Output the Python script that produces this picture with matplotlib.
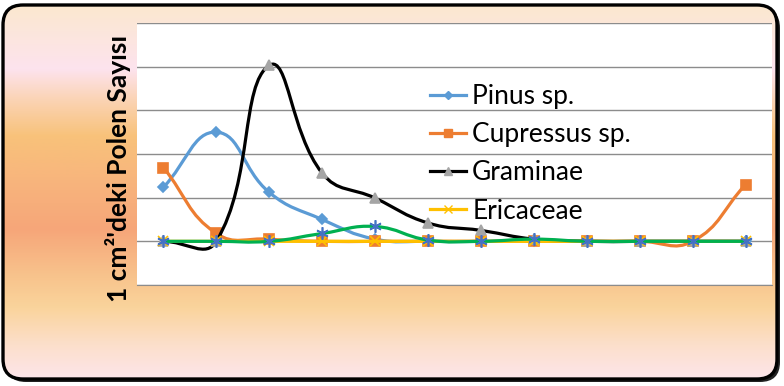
import numpy as np
import matplotlib
matplotlib.use("Agg")
import matplotlib.pyplot as plt
from matplotlib.path import Path
from matplotlib.patches import PathPatch, FancyBboxPatch
from matplotlib.lines import Line2D
from matplotlib.colors import LinearSegmentedColormap

# Veri
kategoriler = list(range(12))
pinus = [12.4, 25.0, 11.2, 5.0, 0.5, 0, 0, 0, 0, 0, 0, 0]
cupressus = [16.9, 1.8, 0.5, 0, 0, 0, 0, 0, 0, 0, 0, 13.0]
graminae = [0, 0, 40.3, 15.6, 9.9, 4.2, 2.5, 0.5, 0, 0, 0, 0]
ericaceae = [0, 0, 0, 0, 0, 0, 0, 0, 0, 0, 0, 0]
diger = [0, 0, 0, 1.8, 3.4, 0.3, 0, 0.5, 0, 0, 0, 0]

plt.rcParams['font.family'] = ['Lato', 'DejaVu Sans']

fig = plt.figure(figsize=(7.84, 3.86), dpi=100)

# arka plan (yuvarlak köşeli, gradyan)
bg = fig.add_axes([0, 0, 1, 1], zorder=-10)
bg.set_xlim(0, 784)
bg.set_ylim(386, 0)
bg.axis('off')
stops = [(0.0, '#FBE8CF'), (0.17, '#FDE3EE'), (0.25, '#FBD4B6'), (0.35, '#F8C27A'),
         (0.46, '#F8B67D'), (0.6, '#F6A679'), (0.73, '#F8C48D'), (0.81, '#FAD49C'),
         (0.91, '#FCDFCB'), (1.0, '#FDE5EA')]
cmap = LinearSegmentedColormap.from_list('arka', stops)
grad = np.linspace(0, 1, 256).reshape(-1, 1)
shadow = FancyBboxPatch((6, 8), 774, 374, boxstyle="round,pad=0,rounding_size=20",
                        fc='#222222', ec='none', zorder=0)
bg.add_patch(shadow)
box = FancyBboxPatch((3, 5), 774, 374, boxstyle="round,pad=0,rounding_size=20",
                     fc='none', ec='black', lw=2.4, zorder=2)
im = bg.imshow(grad, cmap=cmap, extent=(3, 777, 379, 5), aspect='auto', zorder=1)
bg.add_patch(box)
im.set_clip_path(box)

ax = fig.add_axes([137 / 784, 1 - 285 / 386, 635 / 784, 262 / 386])
ax.set_facecolor('white')
ax.set_xlim(-0.5, 11.5)
ax.set_ylim(-10, 50)
ax.set_yticks(range(-10, 51, 10))
ax.set_xticks([])
ax.tick_params(left=False, labelleft=False)
ax.grid(axis='y', color='#8C8C8C', lw=1)
for s in ['left', 'right', 'top']:
    ax.spines[s].set_visible(False)
ax.spines['bottom'].set_color('#8C8C8C')
ax.set_axisbelow(True)


def yumusak(x, y, renk, z, t=0.45):
    pts = ax.transData.transform(np.column_stack([x, y]))
    n = len(pts)
    verts = [pts[0]]
    codes = [Path.MOVETO]
    for i in range(n - 1):
        p0 = pts[max(i - 1, 0)]
        p1 = pts[i]
        p2 = pts[i + 1]
        p3 = pts[min(i + 2, n - 1)]
        d01 = np.hypot(*(p1 - p0))
        d12 = np.hypot(*(p2 - p1))
        d23 = np.hypot(*(p3 - p2))
        c1 = p1 + (p2 - p0) * t * d12 / (d01 + d12)
        c2 = p2 - (p3 - p1) * t * d12 / (d12 + d23)
        verts += [c1, c2, p2]
        codes += [Path.CURVE4] * 3
    verts = ax.transData.inverted().transform(np.array(verts))
    ax.add_patch(PathPatch(Path(verts, codes), fc='none', ec=renk, lw=2.3,
                           zorder=z, capstyle='round', joinstyle='round'))


seriler = [
    (pinus, '#5B9BD5', 'D', '#5B9BD5', 5.5, 'Pinus sp.'),
    (cupressus, '#ED7D31', 's', '#ED7D31', 7, 'Cupressus sp.'),
    (graminae, 'black', '^', '#A5A5A5', 7.5, 'Graminae'),
    (ericaceae, '#FFC000', 'x', '#FFC000', 7, 'Ericaceae'),
    (diger, '#00B050', (6, 2, 0), '#4472C4', 9, None),
]

handles = []
for i, (y, renk, mk, mrenk, ms, ad) in enumerate(seriler):
    yumusak(kategoriler, y, renk, 3 + 2 * i)
    ax.plot(kategoriler, y, ls='none', marker=mk, ms=ms, color=mrenk,
            mec=mrenk, mew=1.2, zorder=4 + 2 * i)
    if ad:
        handles.append(Line2D([], [], color=renk, lw=2.3, marker=mk, ms=ms * 0.8,
                              mfc=mrenk, mec=mrenk, label=ad))

fig.legend(handles=handles, loc='upper left', bbox_to_anchor=(430 / 784, 1 - 84 / 386),
           frameon=False, fontsize=19, handlelength=1.35, handletextpad=0.25,
           labelspacing=0.5, borderpad=0, borderaxespad=0)

fig.text(118 / 784, 1 - 168 / 386, "1 cm²'deki Polen Sayısı", rotation=90,
         ha='center', va='center', fontsize=19, fontweight='bold')

fig.savefig('out.png', dpi=100)
